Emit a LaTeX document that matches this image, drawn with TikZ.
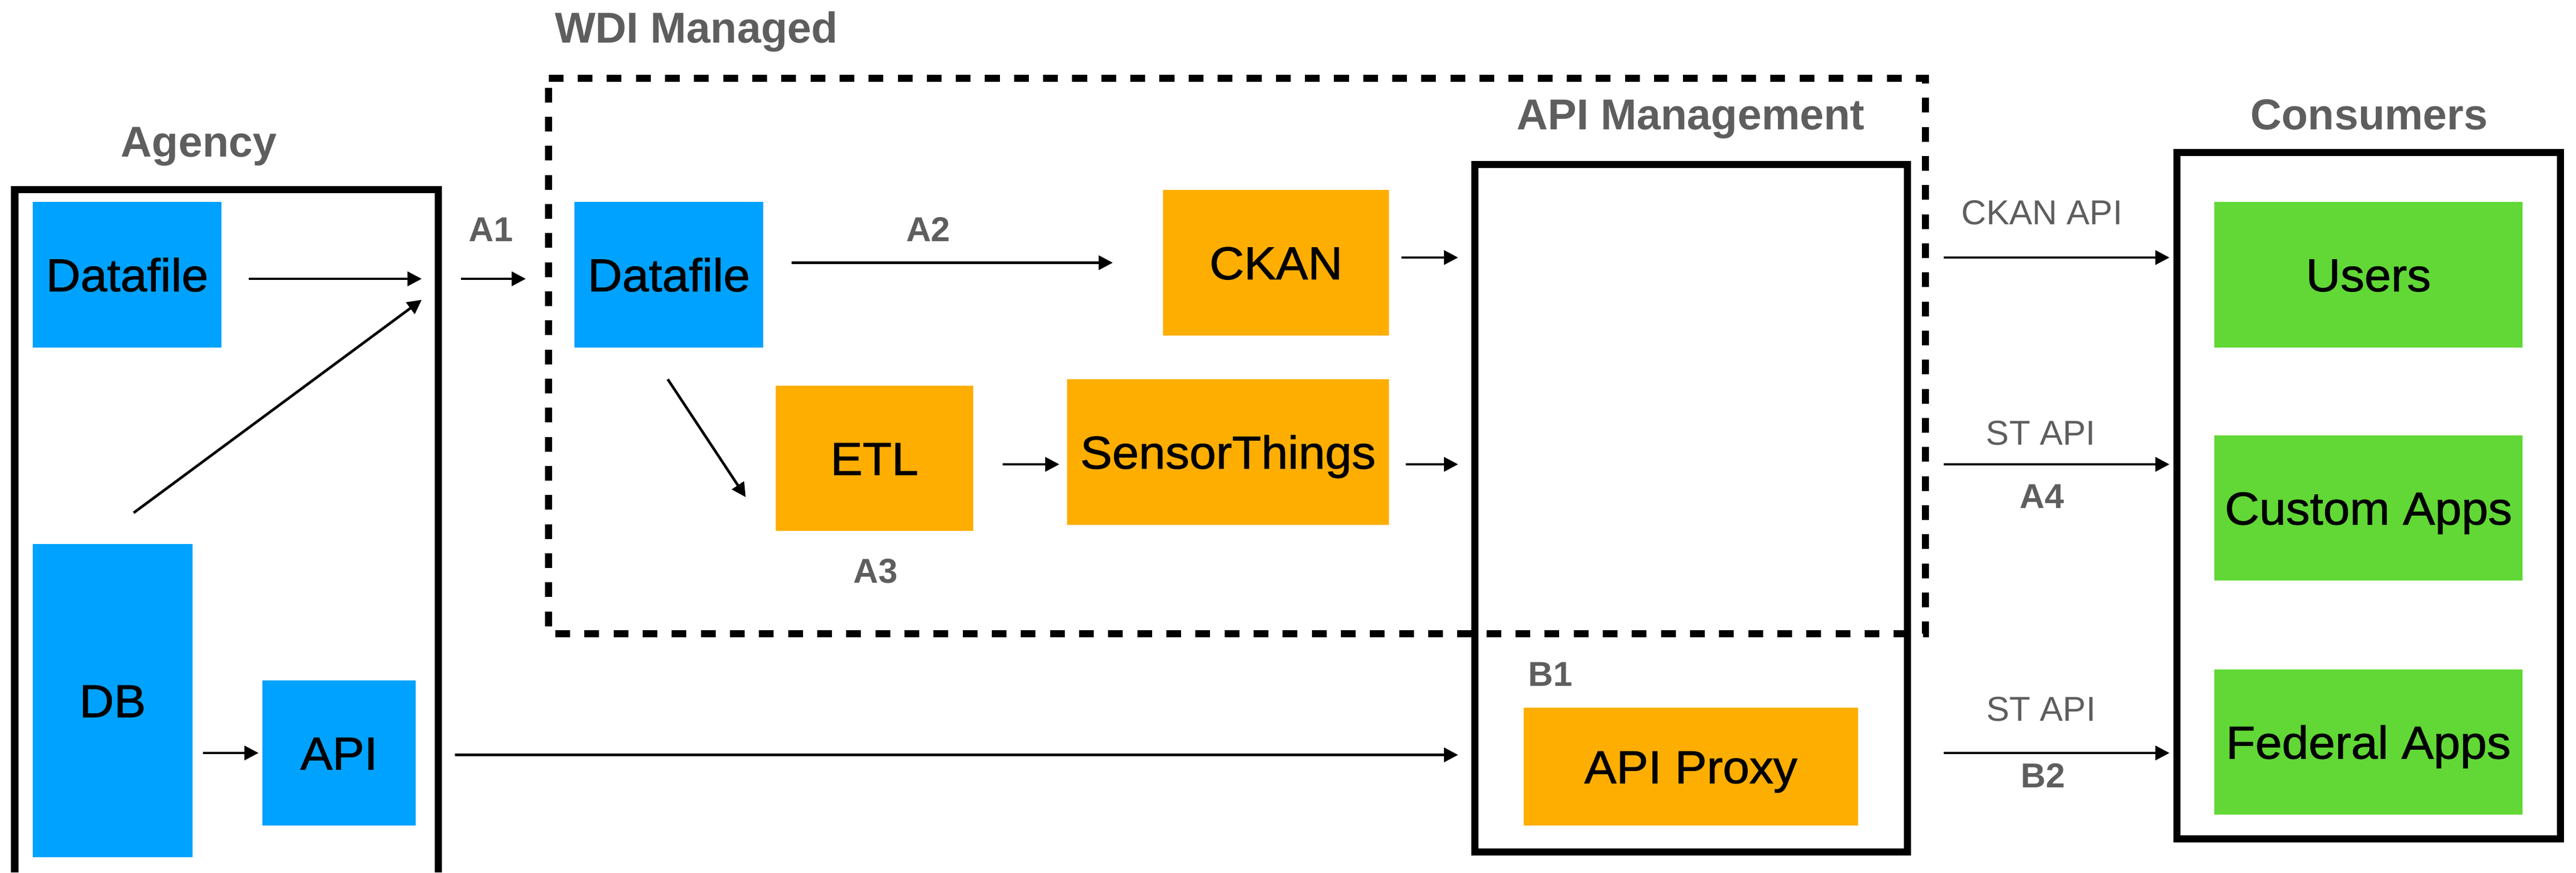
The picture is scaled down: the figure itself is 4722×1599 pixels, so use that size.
\documentclass[tikz,border=0pt]{standalone}
\usepackage{fontspec}
\setmainfont{Liberation Sans}
\newfontfamily\boxfont{Liberation Sans}[FakeStretch=1.04,FakeBold=1.2]
\usetikzlibrary{arrows.meta,calc}
\definecolor{kblue}{HTML}{00A2FF}
\definecolor{korange}{HTML}{FEAE00}
\definecolor{kgreen}{HTML}{61D836}
\definecolor{kgray}{HTML}{5E5E5E}
\begin{document}
\begin{tikzpicture}[x=0.01cm,y=-0.01cm,
  box/.style={inner sep=0pt, outer sep=0pt, font=\boxfont\fontsize{24}{28}\selectfont, text height=17.2pt, text depth=0pt},
  bluebox/.style={box, fill=kblue},
  orangebox/.style={box, fill=korange},
  greenbox/.style={box, fill=kgreen},
  frame/.style={draw=black, line width=0.13cm, inner sep=0pt, outer sep=0pt},
  title/.style={inner sep=0pt, text=kgray, font=\bfseries\fontsize{22.5}{27}\selectfont, text height=16.1pt, text depth=0pt},
  lbl/.style={inner sep=0pt, text=kgray, font=\bfseries\fontsize{18}{22}\selectfont, text height=12.9pt, text depth=0pt},
  apilbl/.style={inner sep=0pt, text=kgray, font=\fontsize{18}{22}\selectfont, text height=12.9pt, text depth=0pt},
  arr/.style={line width=0.048cm, -{Triangle[length=0.26cm,width=0.26cm]}},
  wdidash/.style={line width=0.125cm, dash pattern=on 0.27cm off 0.263cm}
]
\useasboundingbox (0,0) rectangle (4722,1599);

% WDI managed dashed region
\draw[wdidash] (1005.5,143.5) -- (3529.5,143.5) -- (3529.5,1161.5) -- (1005.5,1161.5) -- cycle;

% frames
\draw[frame] (27,1599) -- (27,347) -- (803.5,347) -- (803.5,1599);
\node[frame, minimum width=7.92cm, minimum height=12.595cm] (apim) at (3100,931.75) {};
\node[frame, minimum width=7.02cm, minimum height=12.57cm] (cons) at (4342,908.5) {};

% titles
\node[title] (tagency) at (364.5,259) {Agency};
\node[title] (twdi) at (1276.5,50) {WDI Managed};
\node[title] (tapim) at (3099.5,209.5) {API Management};
\node[title] (tcons) at (4343,209.5) {Consumers};

% boxes
\node[bluebox, minimum width=3.46cm, minimum height=2.67cm] (adf) at (233,503.5) {Datafile};
\node[bluebox, minimum width=2.93cm, minimum height=5.74cm] (db) at (206.5,1284) {DB};
\node[bluebox, minimum width=2.81cm, minimum height=2.66cm] (api) at (621.5,1380) {API};
\node[bluebox, minimum width=3.46cm, minimum height=2.67cm] (wdf) at (1226,503.5) {Datafile};
\node[orangebox, minimum width=4.14cm, minimum height=2.67cm] (ckan) at (2339,481.5) {CKAN};
\node[orangebox, minimum width=3.62cm, minimum height=2.66cm] (etl) at (1603,840) {ETL};
\node[orangebox, minimum width=5.90cm, minimum height=2.67cm] (st) at (2251,828.5) {SensorThings};
\node[orangebox, minimum width=6.13cm, minimum height=2.16cm] (proxy) at (3099.5,1405) {API Proxy};
\node[greenbox, minimum width=5.65cm, minimum height=2.67cm] (users) at (4341.5,503.5) {Users};
\node[greenbox, minimum width=5.65cm, minimum height=2.66cm] (custom) at (4341.5,931) {Custom Apps};
\node[greenbox, minimum width=5.65cm, minimum height=2.66cm] (federal) at (4341.5,1360) {Federal Apps};

% labels
\node[lbl] (la1) at (900,420) {A1};
\node[lbl] (la2) at (1701.5,420) {A2};
\node[lbl] (la3) at (1605,1046) {A3};
\node[lbl] (lb1) at (2842,1234.5) {B1};
\node[lbl] (la4) at (3743,909) {A4};
\node[lbl] (lb2) at (3745,1421) {B2};
\node[apilbl] (lckan) at (3743,389) {CKAN API};
\node[apilbl] (lst1) at (3741,793) {ST API};
\node[apilbl] (lst2) at (3741.5,1299) {ST API};

% connectors
\coordinate (j1) at (773,511);
\coordinate (j2) at (773,549.5);
\coordinate (a1s) at (845,511);
\draw[arr, shorten <=0.5cm] (adf.east |- j1) -- (j1);
\draw[arr] ($(db.north)+(38.5,-57)$) -- (j2);
\draw[arr, shorten >=0.89cm] (a1s) -- (wdf.west |- a1s);
\draw[arr, shorten <=0.52cm, shorten >=0.92cm] (wdf.east |- ckan.west) -- (ckan.west);
\draw[arr] ($(wdf.south)+(-2,58)$) -- ($(etl.south west)+(-55,-62)$);
\draw[arr] ($(etl.east)+(54,11)$) -- ($(st.west)+(-14,22.5)$);
\draw[arr] ($(ckan.east)+(23,-9.5)$) -- ($(apim.west |- ckan.east)+(-31,-9.5)$);
\draw[arr] ($(st.east)+(31,22.5)$) -- ($(apim.west |- st.east)+(-31,22.5)$);
\draw[arr] ($(api.east)+(72,3.5)$) -- ($(apim.west |- api.east)+(-31,3.5)$);
\draw[arr, shorten <=0.19cm, shorten >=0.07cm] (db.east |- api.west) -- (api.west);
\draw[arr] ($(apim.east |- ckan.east)+(67,-9.5)$) -- ($(cons.west |- ckan.east)+(-14,-9.5)$);
\draw[arr] ($(apim.east |- st.east)+(67,22.5)$) -- ($(cons.west |- st.east)+(-14,22.5)$);
\draw[arr] ($(apim.east |- api.east)+(67,0)$) -- ($(cons.west |- api.east)+(-14,0)$);
\end{tikzpicture}
\end{document}
